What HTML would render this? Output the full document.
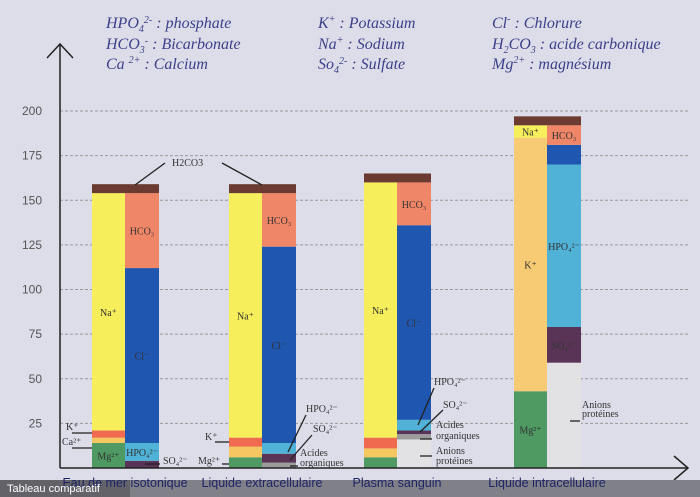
<!DOCTYPE html>
<html><head><meta charset="utf-8"><style>
body{margin:0;width:700px;height:497px;overflow:hidden;background:#dcdde8;font-family:"Liberation Serif",serif}
svg{display:block}
.hdr{font-family:"Liberation Serif",serif;font-style:italic;fill:#3c3f8a;font-size:16px}
.lbl{font-family:"Liberation Serif",serif;font-size:10px;fill:#333}
.tick{font-family:"Liberation Sans",sans-serif;font-size:12px;fill:#555}
.cat{font-family:"Liberation Sans",sans-serif;font-size:12.5px;fill:#1e2466}
</style></head><body>
<svg id="c" width="700" height="497" xmlns="http://www.w3.org/2000/svg">
<rect width="700" height="497" fill="#dcdde8"/>
<g>
<text class="hdr" x="106" y="28">HPO<tspan font-size="10" dy="4">4</tspan><tspan font-size="10" dy="-9">2-</tspan><tspan dy="5"> : phosphate</tspan></text>
<text class="hdr" x="106" y="49">HCO<tspan font-size="10" dy="4">3</tspan><tspan font-size="10" dy="-9">-</tspan><tspan dy="5"> : Bicarbonate</tspan></text>
<text class="hdr" x="106" y="69">Ca <tspan font-size="10" dy="-6">2+</tspan><tspan dy="6"> : Calcium</tspan></text>
<text class="hdr" x="318" y="28">K<tspan font-size="10" dy="-6">+</tspan><tspan dy="6"> : Potassium</tspan></text>
<text class="hdr" x="318" y="49">Na<tspan font-size="10" dy="-6">+</tspan><tspan dy="6"> : Sodium</tspan></text>
<text class="hdr" x="318" y="69">So<tspan font-size="10" dy="4">4</tspan><tspan font-size="10" dy="-9">2-</tspan><tspan dy="5"> : Sulfate</tspan></text>
<text class="hdr" x="492" y="28">Cl<tspan font-size="10" dy="-6">-</tspan><tspan dy="6"> : Chlorure</tspan></text>
<text class="hdr" x="492" y="49">H<tspan font-size="10" dy="4">2</tspan><tspan dy="-4">CO</tspan><tspan font-size="10" dy="4">3</tspan><tspan dy="-4"> : acide carbonique</tspan></text>
<text class="hdr" x="492" y="69">Mg<tspan font-size="10" dy="-6">2+</tspan><tspan dy="6"> : magnésium</tspan></text>
</g>
<g id="grid"></g>
<g id="bars"></g>
<g id="ann"></g>
<line x1="60" y1="468" x2="60" y2="44" stroke="#222" stroke-width="1.5"/>
<polyline points="47,58 60,44 73,58" fill="none" stroke="#222" stroke-width="1.5"/>
<line x1="60" y1="468" x2="688" y2="468" stroke="#222" stroke-width="1.5"/>
<polyline points="674,456 688,468 674,480" fill="none" stroke="#222" stroke-width="1.5"/>
<rect x="0" y="480" width="700" height="17" fill="#808088"/>
<rect x="0" y="480" width="130" height="17" fill="#5a5a60" opacity="0.8"/>
<g id="cats"></g>
<text x="7" y="492" font-family="Liberation Sans,sans-serif" font-size="11" fill="#fff">Tableau comparatif</text>
</svg>
<script>
const categories=["Eau de mer isotonique","Liquide extracellulaire","Plasma sanguin","Liquide intracellulaire"];
const yTicks=[25,50,75,100,125,150,175,200];
const cationNames=["Mg2+","Ca2+","K+","Na+","H2CO3"];
const cationValues=[[14,3,4,133,5],[6,6,5,137,5],[6,5,6,143,5],[43,0,142,7,5]];
const anionNames=["Anions protéines","Acides organiques","SO4 2-","HPO4 2-","Cl-","HCO3-","H2CO3"];
const anionValues=[[0,0,4,10,98,42,5],[0,3,5,6,110,30,5],[16,3,2,6,109,24,5],[59,0,20,91,11,11,5]];
const colors={"Mg2+":"#4f9a63","Ca2+":"#f5c760","K+":"#ef6a4f","Na+":"#f6ee5a","H2CO3":"#6b3a30","Anions protéines":"#e2e2e4","Acides organiques":"#9c9c9c","SO4 2-":"#5a3456","HPO4 2-":"#4fb2d6","Cl-":"#1e56b0","HCO3-":"#ef8667"};
const barX=[92,229,364,514];
const bw=33;
const y=v=>468-v*1.785;
const NS="http://www.w3.org/2000/svg";
function mk(t,a,p){const e=document.createElementNS(NS,t);for(const k in a)e.setAttribute(k,a[k]);p.appendChild(e);return e;}
const grid=document.getElementById('grid');
yTicks.forEach(t=>{
  const l=mk('line',{x1:60,x2:690,y1:y(t),y2:y(t),stroke:'#999','stroke-dasharray':'3,2'},grid);
  
  
  const tx=mk('text',{x:42,y:y(t)+4,'text-anchor':'end',class:'tick'},grid);tx.textContent=t;
  
  
});
const bars=document.getElementById('bars');
const cl={"Mg2+":"Mg²⁺","Ca2+":"Ca²⁺","K+":"K⁺","Na+":"Na⁺","Cl-":"Cl⁻","HCO3-":"HCO₃","HPO4 2-":"HPO₄²⁻","SO4 2-":"SO₄²⁻"};
function stack(vals,names,x,w,gi,side){
  let c=0;
  vals.forEach((v,i)=>{
    if(v<=0)return;
    let col=colors[names[i]];
    if(gi===3&&names[i]==='K+')col='#f7cb74';
    const r=mk('rect',{x:x,y:y(c+v),width:w,height:y(c)-y(c+v),fill:col},bars);
    
    
    const skip=(gi===3&&names[i]==='Cl-');
    if(cl[names[i]] && !skip && y(c)-y(c+v)>12 && !(side==='anion'&&names[i]==='SO4 2-'&&v<10)){
      const t=mk('text',{x:x+w/2,y:(y(c)+y(c+v))/2+4,'text-anchor':'middle',class:'lbl'},bars);
      t.textContent=cl[names[i]];
      
      
    }
    c+=v;
  });
}
categories.forEach((cat,i)=>{
  stack(cationValues[i],cationNames,barX[i],bw,i,'cation');
  stack(anionValues[i],anionNames,barX[i]+bw,bw+1,i,'anion');
  const t=mk('text',{x:barX[i]+bw,y:487,'text-anchor':'middle',class:'cat'},document.getElementById('cats'));
  t.textContent=cat;
  
  
});
const ann=document.getElementById('ann');
function note(txt,x,yy,lx1,ly1,lx2,ly2){
  if(lx1!==undefined){const l=mk('line',{x1:lx1,y1:ly1,x2:lx2,y2:ly2,stroke:'#222','stroke-width':1.3},ann);}
  if(txt){const t=mk('text',{x:x,y:yy,class:'lbl'},ann);t.textContent=txt;}
}
note('H2CO3',172,166,135,185,165,163);note('',0,0,262,185,222,163);
note('K⁺',66,430,72,433,92,433);note('Ca²⁺',62,445,72,448,92,448);
note('SO₄²⁻',163,464,145,464,160,464);
note('K⁺',205,440,215,442,229,442);note('Mg²⁺',198,464,222,464,229,464);
note('HPO₄²⁻',306,412,288,452,306,415);note('SO₄²⁻',313,432,290,460,312,435);
note('Acides',300,456);note('organiques',300,466,290,466,298,466);
note('HPO₄²⁻',434,385,418,425,434,388);note('SO₄²⁻',443,408,420,432,443,410);
note('Acides',436,428);note('organiques',436,439,420,439,432,439);
note('Anions',436,454);note('protéines',436,464,420,456,432,456);
note('Anions',582,408);note('protéines',582,417,570,421,580,421);
</script>
</body></html>
